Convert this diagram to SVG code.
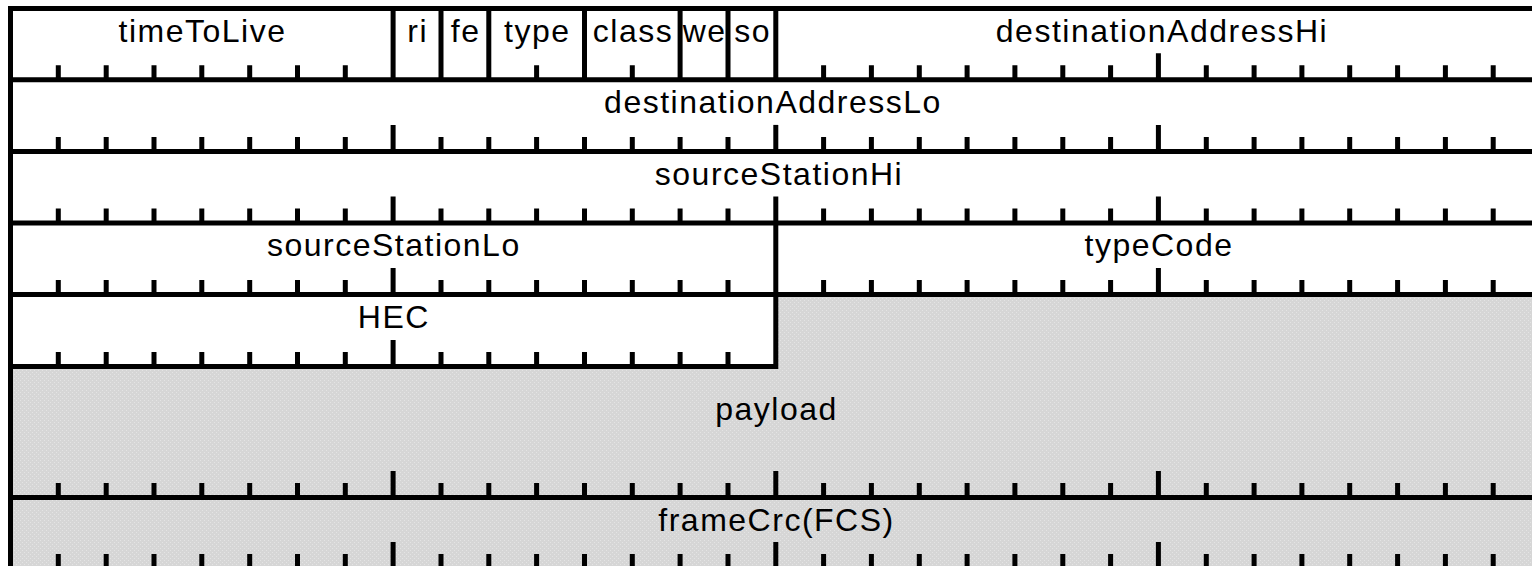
<svg xmlns="http://www.w3.org/2000/svg" width="1532" height="566" viewBox="0 0 1532 566">
<style>
.ln{stroke:#000;stroke-width:5;fill:none;stroke-linecap:butt;stroke-linejoin:miter}
.t{font-family:"Liberation Sans",Arial,sans-serif;font-size:32px;letter-spacing:1.5px;text-anchor:middle;fill:#000}
.g{fill:url(#dots)}
</style>
<defs>
<pattern id="dots" width="4" height="4" patternUnits="userSpaceOnUse">
<rect width="4" height="4" fill="#d6d6d6"/>
<rect x="0" y="0" width="1" height="1" fill="#e4e4e4"/>
<rect x="2" y="2" width="1" height="1" fill="#e4e4e4"/>
</pattern>
<path id="ticksL" class="ln" d="M58.3 0V-14.5M106.2 0V-14.5M154 0V-14.5M201.8 0V-14.5M249.7 0V-14.5M297.5 0V-14.5M345.3 0V-14.5M393.1 0V-26.5M441 0V-14.5M488.8 0V-14.5M536.6 0V-14.5M584.5 0V-14.5M632.3 0V-14.5M680.1 0V-14.5M728 0V-14.5"/>
<path id="ticksR" class="ln" d="M823.6 0V-14.5M871.4 0V-14.5M919.3 0V-14.5M967.1 0V-14.5M1014.9 0V-14.5M1062.8 0V-14.5M1110.6 0V-14.5M1158.4 0V-26.5M1206.3 0V-14.5M1254.1 0V-14.5M1301.9 0V-14.5M1349.7 0V-14.5M1397.6 0V-14.5M1445.4 0V-14.5M1493.2 0V-14.5"/>
<path id="tick16" class="ln" d="M775.8 0V-26.5"/>
</defs>
<rect x="0" y="0" width="1532" height="566" fill="#fff"/>

<g id="timeToLive"><text class="t" x="202.5" y="41.7">timeToLive</text></g>
<g id="ri"><text class="t" x="417.7" y="41.7">ri</text></g>
<g id="fe"><text class="t" x="465.6" y="41.7">fe</text></g>
<g id="type"><text class="t" x="537.3" y="41.7">type</text></g>
<g id="class"><text class="t" x="633" y="41.7">class</text></g>
<g id="we"><text class="t" x="704.7" y="41.7">we</text></g>
<g id="so"><text class="t" x="752.6" y="41.7">so</text></g>
<g id="destinationAddressHi"><text class="t" x="1162" y="41.7">destinationAddressHi</text></g>
<g id="destinationAddressLo"><text class="t" x="773" y="113">destinationAddressLo</text></g>
<g id="sourceStationHi"><text class="t" x="779" y="184.6">sourceStationHi</text></g>
<g id="sourceStationLo"><text class="t" x="393.8" y="256.2">sourceStationLo</text></g>
<g id="typeCode"><text class="t" x="1159" y="256.2">typeCode</text></g>
<g id="HEC"><text class="t" x="393.8" y="327.8">HEC</text></g>
<g id="payload"><path class="g" d="M775.8 294.6H1545V497.5H10.5V366.4H775.8Z"/><text class="t" x="776.5" y="420">payload</text></g>
<g id="frameCrc"><rect class="g" x="10.5" y="497.5" width="1535" height="71"/><text class="t" x="776.5" y="530.7">frameCrc(FCS)</text></g>

<g id="grid">
<path class="ln" d="M10.5 6V570M8 8.5H1545M8 79.8H1545M8 151.4H1545M8 223H1545M8 294.6H1545M8 497.5H1545M8 568.5H1545M1541.1 6V570"/>
<path class="ln" d="M8 366.4H775.8V223"/>
<path class="ln" d="M393.1 8.5V79.8M441 8.5V79.8M488.8 8.5V79.8M584.5 8.5V79.8M680.1 8.5V79.8M728 8.5V79.8M775.8 8.5V79.8"/>
<path class="ln" d="M58.3 79.8V65.3M106.2 79.8V65.3M154 79.8V65.3M201.8 79.8V65.3M249.7 79.8V65.3M297.5 79.8V65.3M345.3 79.8V65.3M536.6 79.8V65.3M632.3 79.8V65.3"/>
<use href="#ticksR" y="79.8"/>
<use href="#ticksL" y="151.4"/><use href="#tick16" y="151.4"/><use href="#ticksR" y="151.4"/>
<use href="#ticksL" y="223"/><use href="#tick16" y="223"/><use href="#ticksR" y="223"/>
<use href="#ticksL" y="294.6"/><use href="#ticksR" y="294.6"/>
<use href="#ticksL" y="366.4"/>
<use href="#ticksL" y="497.5"/><use href="#tick16" y="497.5"/><use href="#ticksR" y="497.5"/>
<use href="#ticksL" y="568.5"/><use href="#tick16" y="568.5"/><use href="#ticksR" y="568.5"/>
</g>
<g id="connectors"/>
</svg>
